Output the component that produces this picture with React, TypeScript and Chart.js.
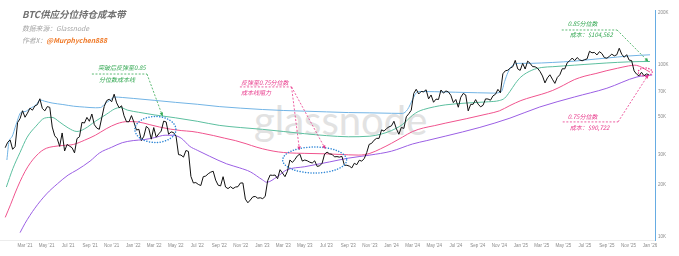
import React, { useEffect, useRef } from "react";
import { Chart, registerables } from "chart.js";

Chart.register(...registerables);

// ---------- DATA ----------
// BTC weekly price (thousand USD), Mondays starting 2021-01-04
const priceStartDate = [2021, 0, 4];
const priceStepDays = 7;
const btcPriceK = [
  // 2021
  33.0, 35.5, 36.6, 32.3, 33.5, 46.2, 48.7, 54.1, 49.6, 52.4, 56.0, 54.5, 57.7, 58.7, 63.5, 55.8, 54.0, 57.2, 56.6, 43.5,
  38.7, 37.3, 33.6, 40.2, 31.6, 34.5, 33.7, 33.0, 30.8, 37.3, 38.2, 46.3, 45.9, 49.5, 47.0, 51.8, 44.9, 42.9, 42.2, 49.2,
  57.4, 62.0, 63.1, 61.0, 67.5, 60.1, 56.3, 57.8, 50.6, 46.7, 46.7, 50.7,
  // 2022
  46.4, 41.8, 42.2, 36.3, 38.5, 43.9, 42.6, 37.0, 43.2, 38.0, 39.7, 41.2, 47.1, 46.6, 39.5, 40.8, 40.4, 38.5, 30.1, 29.9,
  29.1, 31.8, 31.4, 22.5, 20.6, 20.7, 20.2, 19.9, 22.4, 22.6, 23.3, 23.8, 24.1, 21.4, 20.0, 19.8, 22.4, 19.5, 19.1, 19.6,
  19.1, 19.5, 19.6, 20.6, 20.6, 16.6, 15.8, 16.4, 17.1, 17.2, 16.8, 16.9,
  // 2023
  16.7, 17.2, 21.2, 22.9, 22.8, 22.9, 21.8, 24.6, 23.5, 22.4, 24.1, 28.0, 27.1, 28.2, 29.6, 30.3, 27.6, 28.0, 27.7, 27.2,
  26.9, 27.7, 25.7, 25.9, 26.8, 30.3, 31.1, 30.4, 30.2, 29.2, 29.3, 29.1, 29.4, 26.1, 26.1, 25.8, 25.2, 26.8, 26.3, 27.9,
  27.6, 28.5, 30.9, 34.5, 35.0, 36.5, 37.4, 37.4, 41.9, 41.2, 42.6, 43.6,
  // 2024
  44.2, 47.0, 42.5, 39.5, 43.3, 42.7, 49.9, 52.0, 54.5, 68.2, 72.1, 67.7, 70.0, 69.7, 71.6, 63.4, 66.8, 60.6, 63.2, 62.9,
  71.4, 68.5, 70.5, 69.6, 66.5, 60.3, 62.9, 56.7, 64.8, 68.2, 66.8, 54.0, 58.9, 59.0, 62.8, 59.1, 57.0, 58.2, 63.4, 63.3,
  62.3, 66.0, 67.4, 72.0, 68.8, 88.7, 92.3, 93.0, 95.8, 97.4, 106.1, 94.7, 92.8,
  // 2025
  102.0, 94.5, 105.0, 102.0, 97.6, 97.4, 95.5, 91.5, 86.1, 78.5, 84.0, 87.5, 82.5, 78.0, 84.5, 87.5, 94.9, 94.7, 102.8, 105.6,
  109.5, 105.7, 110.2, 106.8, 105.5, 107.1, 108.2, 119.8, 117.4, 118.0, 114.1, 119.2, 116.2, 110.1, 109.2, 112.0, 115.3, 112.7, 114.3, 124.8,
  115.2, 110.6, 114.5, 106.5, 105.8, 92.2, 88.3, 86.3, 90.5, 86.4, 88.5, 87.6,
];

// Cost-basis bands: position in months since Jan 2021, value in thousand USD
const blueMonths = [0.25, 0.45, 0.7, 1.1, 1.6, 2.0, 2.5, 3.0, 3.4, 3.8, 4.5, 5.5, 6.5, 7.5, 8.5, 9.0, 9.4, 9.8, 10.3, 11, 12, 14, 16, 18, 20, 22, 24, 26, 28, 30, 32, 34, 36, 37.0, 37.5, 38.0, 38.3, 38.6, 40, 42, 44, 45.5, 46.2, 46.5, 46.8, 47.1, 47.5, 48, 49, 50, 51, 52, 53, 54, 55, 56, 57, 58, 59, 60];
const blueK = [28.0, 36, 38, 45, 53, 53.5, 56, 58.5, 62.5, 61.5, 60, 58.8, 57.5, 56.8, 56.3, 56.5, 59.5, 62, 65, 64.6, 63.8, 62.2, 60.5, 59, 57.2, 56, 55, 54.3, 53.8, 53.3, 52.8, 52.6, 52.3, 52.2, 55, 63, 68.5, 70, 69.8, 69.3, 68.8, 68.5, 70, 80, 90, 97, 101.5, 102, 102, 102.5, 103.2, 104, 105, 106.5, 108, 109.5, 111, 112.5, 113.5, 114.3];

const q85Months = [0.2, 0.8, 1.5, 2.2, 3.0, 3.8, 4.5, 5.2, 6.0, 6.8, 7.5, 8.5, 9.5, 10.3, 10.8, 11.5, 12.5, 14, 16, 18, 20, 22, 24, 26, 28, 30, 32, 34, 35, 36, 37, 38, 38.5, 39, 40, 41, 43, 45, 46, 46.5, 47, 47.5, 48, 49, 50, 51, 52, 53, 54, 55, 56, 57, 58, 59, 60];
const q85K = [19.5, 25, 31, 38, 44, 49, 49.5, 46.5, 43, 41, 42.5, 47, 51.5, 55.5, 56.5, 54.5, 53, 51.2, 49.2, 47, 44.5, 43.2, 42.2, 41, 39.8, 38.8, 38.2, 38.5, 39.5, 41.5, 45, 51, 53.5, 55, 57, 58.5, 60, 61, 62, 64, 70, 78, 85, 93, 96.5, 97.5, 98.5, 99.5, 100.5, 101.5, 102.5, 103.3, 104, 104.4, 104.56];

const q75Months = [0.1, 0.6, 1.0, 1.5, 2.0, 2.5, 3.0, 3.5, 4.0, 4.6, 5.5, 6.5, 7.5, 8.5, 9.5, 10.5, 11.5, 12.5, 13.5, 14.5, 15.5, 16.5, 17.5, 18.5, 19.5, 20.5, 21.5, 22.5, 23.5, 24.5, 25.5, 26.5, 28, 30, 32, 33, 34, 35, 36, 37, 38, 39, 40, 41, 43, 45, 46, 47, 48, 49, 50, 51, 52, 53, 54, 55, 56, 57, 58, 58.6, 59.2, 59.7, 60.0];
const q75K = [13, 15.5, 18, 21, 24, 27, 29.5, 31.5, 32.8, 33.5, 34, 34.5, 36.5, 39, 42.5, 45.5, 46.8, 46.5, 45, 43.5, 42.3, 41.5, 41, 40, 38.8, 37.5, 36.3, 34.8, 33.2, 32, 31.2, 30.8, 30.6, 30.4, 30, 29.9, 30.6, 32.5, 35, 38, 41, 43, 44.3, 45.8, 48.7, 52, 54, 58, 62, 65, 67.5, 71, 76, 82, 86, 89, 92.5, 95.5, 98.5, 99.5, 97, 93, 90.72];

const purpleMonths = [1.5, 2.0, 2.9, 4.0, 5.0, 6.0, 6.8, 8.0, 8.9, 10, 11, 12, 13, 14, 15, 15.7, 16.5, 17.3, 18, 19.1, 20.7, 21.9, 22.9, 24, 24.4, 25.4, 26.3, 28, 30.3, 32, 34, 36, 38, 39.3, 41, 44.2, 47, 49.8, 53, 56, 58.8, 60.2];
const purpleK = [10.6, 12, 14.7, 17.8, 20.4, 22.9, 24.5, 27.6, 30.8, 33.2, 35.3, 36.3, 36.8, 37.7, 39, 39, 37.5, 33.6, 31.9, 29.5, 26.6, 25.2, 23.9, 21.5, 20.8, 22.4, 24.5, 25.6, 27.3, 28.7, 29.9, 31.5, 34.7, 36.3, 38.5, 43.3, 49, 56.9, 65, 73.1, 85, 87.3];

const xTickMonths = [2, 4, 6, 8, 10, 12, 14, 16, 18, 20, 22, 24, 26, 28, 30, 32, 34, 36, 38, 40, 42, 44, 46, 48, 50, 52, 54, 56, 58, 60];
const xTickLabels = ["Mar '21", "May '21", "Jul '21", "Sep '21", "Nov '21", "Jan '22", "Mar '22", "May '22", "Jul '22", "Sep '22", "Nov '22", "Jan '23", "Mar '23", "May '23", "Jul '23", "Sep '23", "Nov '23", "Jan '24", "Mar '24", "May '24", "Jul '24", "Sep '24", "Nov '24", "Jan '25", "Mar '25", "May '25", "Jul '25", "Sep '25", "Nov '25", "Jan '26"];
const yTickValues = [10000, 20000, 30000, 50000, 70000, 100000, 200000];
const yTickLabels = ["10K", "20K", "30K", "50K", "70K", "100K", "200K"];

// ---------- helpers ----------
const DAY_MS = 86400000;
const ORIGIN = Date.UTC(2021, 0, 1);
function monthToDay(m: number): number {
  const whole = Math.floor(m);
  const frac = m - whole;
  const a = Date.UTC(2021, whole, 1);
  const b = Date.UTC(2021, whole + 1, 1);
  return (a - ORIGIN + frac * (b - a)) / DAY_MS;
}
const priceStartDay = (Date.UTC(priceStartDate[0], priceStartDate[1], priceStartDate[2]) - ORIGIN) / DAY_MS;

const CJK = "'Noto Sans CJK SC', 'Noto Sans', sans-serif";
const GREEN = "#33a852";
const PINK = "#e8398b";
const DOT_BLUE = "#2e86d6";

const annos = [
  { color: GREEN, text: ["突破后反弹至0.85", "分位数成本线"], fromM: 8.17, toM: 13.28, atK: 88.4, tips: [[14.77, 50.4]], dx1: 6, dx2: 7, dy1: -6, dy2: 6 },
  { color: PINK, text: ["反弹至0.75分位数", "成本线阻力"], fromM: 21.92, toM: 26.76, atK: 74.4, tips: [[27.5, 32.0], [29.9, 32.5]], dx1: 1, dx2: 1, dy1: -4.5, dy2: 6 },
  { color: GREEN, text: ["0.85分位数", "成本：$104,562"], fromM: 51.85, toM: 56.96, atK: 159.3, tips: [[59.84, 104.56]], dx1: 6, dx2: 8, dy1: -6, dy2: 5 },
  { color: PINK, text: ["0.75分位数", "成本：$90,722"], fromM: 51.94, toM: 57.05, atK: 46.6, tips: [[59.84, 87.5]], dx1: 5, dx2: 7, dy1: -5, dy2: 6 },
];
const ellipses = [
  { m: 14.12, k: 42.1, rx: 20.5, ry: 13, color: DOT_BLUE },
  { m: 28.9, k: 28.0, rx: 32, ry: 13, color: DOT_BLUE },
  { m: 59.56, k: 90.8, rx: 7, ry: 4, color: PINK },
];

const annotationPlugin = {
  id: "annos",
  afterDatasetsDraw(chart: any) {
    const ctx = chart.ctx as CanvasRenderingContext2D;
    const xs = chart.scales.x;
    const ys = chart.scales.y;
    const px = (m: number) => xs.getPixelForValue(monthToDay(m));
    const py = (k: number) => ys.getPixelForValue(k * 1000);
    ctx.save();
    for (const e of ellipses) {
      ctx.beginPath();
      ctx.setLineDash([0.1, 2.6]);
      ctx.lineCap = "round";
      ctx.lineWidth = 1.5;
      ctx.strokeStyle = e.color;
      ctx.ellipse(px(e.m), py(e.k), e.rx, e.ry, 0, 0, Math.PI * 2);
      ctx.stroke();
    }
    for (const a of annos) {
      const x0 = px(a.fromM);
      const x1 = px(a.toM);
      const y0 = py(a.atK);
      ctx.setLineDash([2, 1.6]);
      ctx.lineCap = "butt";
      ctx.lineWidth = 0.8;
      ctx.strokeStyle = a.color;
      ctx.beginPath();
      ctx.moveTo(x0, y0);
      ctx.lineTo(x1, y0);
      ctx.stroke();
      for (const t of a.tips) {
        const tx = px(t[0]);
        const ty = py(t[1]);
        ctx.setLineDash([2, 1.6]);
        ctx.beginPath();
        ctx.moveTo(x1, y0);
        ctx.lineTo(tx, ty);
        ctx.stroke();
        const ang = Math.atan2(ty - y0, tx - x1);
        ctx.setLineDash([]);
        ctx.fillStyle = a.color;
        ctx.beginPath();
        ctx.moveTo(tx, ty);
        ctx.lineTo(tx - 3.5 * Math.cos(ang) + 1.8 * Math.sin(ang), ty - 3.5 * Math.sin(ang) - 1.8 * Math.cos(ang));
        ctx.lineTo(tx - 3.5 * Math.cos(ang) - 1.8 * Math.sin(ang), ty - 3.5 * Math.sin(ang) + 1.8 * Math.cos(ang));
        ctx.closePath();
        ctx.fill();
      }
      ctx.setLineDash([]);
      ctx.fillStyle = a.color;
      ctx.font = `italic 6px ${CJK}`;
      ctx.textBaseline = "middle";
      ctx.textAlign = "left";
      ctx.fillText(a.text[0], x0 + a.dx1, y0 + a.dy1);
      ctx.fillText(a.text[1], x0 + a.dx2, y0 + a.dy2);
    }
    ctx.restore();
  },
};

function bandDataset(months: number[], values: number[], color: string) {
  return {
    data: months.map((m, i) => ({ x: monthToDay(m), y: values[i] * 1000 })),
    borderColor: color,
    borderWidth: 1,
    pointRadius: 0,
    cubicInterpolationMode: "monotone" as const,
    fill: false,
  };
}

const AXIS_FONT = { size: 4.5, family: "'Liberation Sans', Arial, sans-serif" };

export default function App() {
  const ref = useRef<HTMLCanvasElement>(null);
  useEffect(() => {
    const chart = new Chart(ref.current as HTMLCanvasElement, {
      type: "line",
      data: {
        datasets: [
          {
            data: btcPriceK.map((v, i) => ({ x: priceStartDay + i * priceStepDays, y: v * 1000 })),
            borderColor: "#111111",
            borderWidth: 1,
            pointRadius: 0,
            tension: 0,
            fill: false,
          },
          bandDataset(blueMonths, blueK, "#72b4e5"),
          bandDataset(q85Months, q85K, "#5cbf9f"),
          bandDataset(q75Months, q75K, "#f0548e"),
          bandDataset(purpleMonths, purpleK, "#9b5fe4"),
        ],
      } as any,
      options: {
        responsive: false,
        animation: false,
        devicePixelRatio: 1,
        layout: { padding: { top: 10, left: 0, right: 0, bottom: 0 } },
        plugins: { legend: { display: false }, tooltip: { enabled: false } },
        scales: {
          x: {
            type: "linear",
            bounds: "data",
            min: -11.7,
            max: 1840.1,
            grid: { display: false, drawTicks: false },
            border: { display: true, color: "#ececec" },
            ticks: {
              font: AXIS_FONT,
              color: "#8a8a8a",
              padding: 3,
              maxRotation: 0,
              autoSkip: false,
              callback: (v: any) => {
                const i = xTickMonths.findIndex((m) => Math.abs(monthToDay(m) - v) < 0.01);
                return i >= 0 ? xTickLabels[i] : "";
              },
            },
            afterBuildTicks: (s: any) => {
              s.ticks = xTickMonths.map((m) => ({ value: monthToDay(m) }));
            },
            afterFit: (s: any) => {
              s.height = 16;
            },
          },
          y: {
            type: "logarithmic",
            position: "right",
            bounds: "data",
            min: 9607,
            max: 208100,
            grid: { display: false, drawTicks: false },
            border: { display: true, color: "#66ace3", width: 1 },
            ticks: {
              font: AXIS_FONT,
              color: "#8a8a8a",
              padding: 3,
              autoSkip: false,
              callback: (v: any) => {
                const i = yTickValues.indexOf(Number(v));
                return i >= 0 ? yTickLabels[i] : "";
              },
            },
            afterBuildTicks: (s: any) => {
              s.ticks = yTickValues.map((v) => ({ value: v }));
            },
            afterFit: (s: any) => {
              s.width = 24;
            },
          },
        },
      } as any,
      plugins: [annotationPlugin],
    });
    return () => chart.destroy();
  }, []);

  return (
    <div style={{ position: "fixed", left: 0, top: 0, width: 679, height: 256, background: "#ffffff", overflow: "hidden" }}>
      <div
        style={{
          position: "absolute",
          left: 254,
          top: 100,
          fontFamily: "Lato, 'Open Sans', sans-serif",
          fontSize: 40,
          lineHeight: "40px",
          color: "#e2e2e2",
          whiteSpace: "nowrap",
        }}
      >
        glassnode
      </div>
      <canvas ref={ref} width={679} height={256} style={{ position: "absolute", left: 0, top: 0 }} />
      <div
        style={{
          position: "absolute",
          left: 22,
          top: 8,
          fontFamily: CJK,
          fontSize: 9.5,
          lineHeight: "12px",
          fontWeight: 700,
          fontStyle: "italic",
          color: "#707070",
          whiteSpace: "nowrap",
        }}
      >
        BTC供应分位持仓成本带
      </div>
      <div
        style={{
          position: "absolute",
          left: 22,
          top: 23.5,
          fontFamily: CJK,
          fontSize: 6.8,
          lineHeight: "9px",
          fontStyle: "italic",
          color: "#a3a3a3",
          whiteSpace: "nowrap",
        }}
      >
        数据来源：Glassnode
      </div>
      <div
        style={{
          position: "absolute",
          left: 22,
          top: 35.5,
          fontFamily: CJK,
          fontSize: 6.8,
          lineHeight: "9px",
          fontStyle: "italic",
          color: "#a3a3a3",
          whiteSpace: "nowrap",
        }}
      >
        作者X：<span style={{ color: "#f07c2c", fontWeight: 700 }}>@Murphychen888</span>
      </div>
    </div>
  );
}
